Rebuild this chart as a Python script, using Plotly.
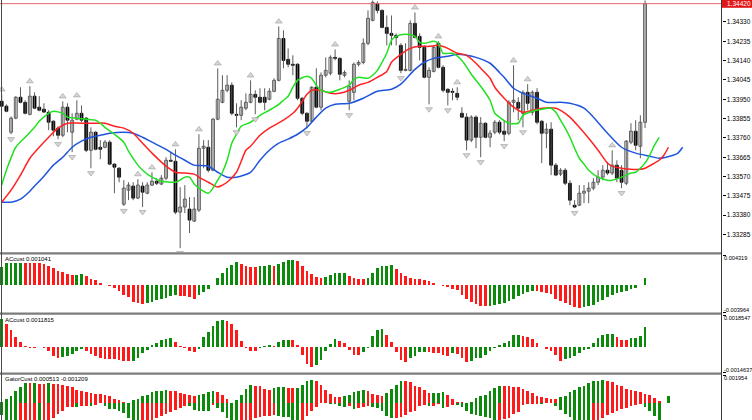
import plotly.graph_objects as go

W, H = 752, 420
PLOT_R = 721.5          # px: right edge of the plotting area (price-scale line)

# ---------------- candles (bar index 0..137) ----------------
opens = [1.33940, 1.33916, 1.33788, 1.33857, 1.33960, 1.33935, 1.33876, 1.33965, 1.33911, 1.33901,
         1.33886, 1.33842, 1.33808, 1.33773, 1.33911, 1.33788, 1.33852, 1.33881, 1.33857, 1.33699,
         1.33788, 1.33714, 1.33714, 1.33739, 1.33631, 1.33611, 1.33434, 1.33503, 1.33523, 1.33464,
         1.33523, 1.33488, 1.33528, 1.33547, 1.33533, 1.33562, 1.33650, 1.33645, 1.33395, 1.33420,
         1.33410, 1.33351, 1.33405, 1.33709, 1.33714, 1.33601, 1.33852, 1.33935, 1.33994, 1.34019,
         1.33876, 1.33871, 1.33906, 1.33935, 1.33974, 1.33960, 1.33960, 1.33950, 1.33989, 1.34043,
         1.34249, 1.34146, 1.34122, 1.34122, 1.33955, 1.33881, 1.33842, 1.34009, 1.33911, 1.34068,
         1.34078, 1.34156, 1.34151, 1.34068, 1.33940, 1.33984, 1.34122, 1.34131, 1.34225, 1.34338,
         1.34421, 1.34387, 1.34303, 1.34274, 1.34264, 1.34215, 1.34092, 1.34092, 1.34323, 1.34259,
         1.34205, 1.34058, 1.34087, 1.34225, 1.34107, 1.33999, 1.33989, 1.33979, 1.33881, 1.33862,
         1.33749, 1.33862, 1.33763, 1.33832, 1.33763, 1.33788, 1.33837, 1.33793, 1.33783, 1.33935,
         1.33935, 1.33881, 1.33984, 1.33886, 1.33984, 1.33842, 1.33783, 1.33803, 1.33626, 1.33582,
         1.33601, 1.33537, 1.33429, 1.33429, 1.33488, 1.33498, 1.33513, 1.33542, 1.33567, 1.33601,
         1.33587, 1.33626, 1.33601, 1.33537, 1.33739, 1.33793, 1.33719, 1.33837]
highs = [1.33974, 1.33925, 1.33866, 1.33965, 1.34009, 1.33945, 1.34014, 1.33984, 1.33965, 1.33930,
         1.33896, 1.33847, 1.33817, 1.33940, 1.33930, 1.33881, 1.33945, 1.33920, 1.33862, 1.33812,
         1.33793, 1.33749, 1.33749, 1.33749, 1.33636, 1.33616, 1.33552, 1.33542, 1.33542, 1.33557,
         1.33542, 1.33542, 1.33591, 1.33562, 1.33577, 1.33665, 1.33690, 1.33704, 1.33518, 1.33528,
         1.33469, 1.33469, 1.33778, 1.33749, 1.33749, 1.33857, 1.34102, 1.34068, 1.34068, 1.34033,
         1.33930, 1.33945, 1.33979, 1.34043, 1.33994, 1.34004, 1.34004, 1.34004, 1.34053, 1.34308,
         1.34289, 1.34200, 1.34166, 1.34127, 1.33960, 1.33886, 1.34014, 1.34102, 1.34082, 1.34156,
         1.34166, 1.34195, 1.34156, 1.34092, 1.34043, 1.34131, 1.34141, 1.34249, 1.34387, 1.34436,
         1.34431, 1.34392, 1.34362, 1.34362, 1.34274, 1.34225, 1.34225, 1.34338, 1.34377, 1.34274,
         1.34215, 1.34107, 1.34215, 1.34235, 1.34117, 1.34004, 1.34004, 1.34009, 1.33911, 1.33881,
         1.33871, 1.33871, 1.33862, 1.33837, 1.33798, 1.33847, 1.33847, 1.33847, 1.33945, 1.34117,
         1.33960, 1.33994, 1.34024, 1.33994, 1.34004, 1.33847, 1.33832, 1.33837, 1.33636, 1.33611,
         1.33611, 1.33552, 1.33454, 1.33528, 1.33528, 1.33542, 1.33562, 1.33601, 1.33626, 1.33641,
         1.33699, 1.33650, 1.33626, 1.33749, 1.33832, 1.33847, 1.33871, 1.34436]
lows = [1.33911, 1.33886, 1.33778, 1.33852, 1.33930, 1.33876, 1.33871, 1.33901, 1.33891, 1.33884,
        1.33798, 1.33768, 1.33754, 1.33763, 1.33788, 1.33690, 1.33847, 1.33837, 1.33690, 1.33611,
        1.33699, 1.33655, 1.33709, 1.33626, 1.33488, 1.33542, 1.33425, 1.33454, 1.33454, 1.33459,
        1.33420, 1.33483, 1.33523, 1.33528, 1.33528, 1.33552, 1.33641, 1.33385, 1.33218, 1.33390,
        1.33292, 1.33346, 1.33395, 1.33611, 1.33591, 1.33596, 1.33847, 1.33930, 1.33984, 1.33871,
        1.33812, 1.33847, 1.33896, 1.33930, 1.33876, 1.33930, 1.33896, 1.33945, 1.33984, 1.34038,
        1.34102, 1.34107, 1.34068, 1.33945, 1.33871, 1.33808, 1.33837, 1.33906, 1.33896, 1.34058,
        1.34068, 1.34141, 1.34043, 1.34058, 1.33896, 1.33945, 1.34112, 1.34122, 1.34215, 1.34333,
        1.34372, 1.34299, 1.34215, 1.34215, 1.34215, 1.34078, 1.34087, 1.34087, 1.34249, 1.34141,
        1.34053, 1.33925, 1.34082, 1.34102, 1.33984, 1.33920, 1.33945, 1.33945, 1.33857, 1.33699,
        1.33739, 1.33709, 1.33665, 1.33758, 1.33714, 1.33778, 1.33778, 1.33744, 1.33773, 1.33886,
        1.33847, 1.33812, 1.33896, 1.33871, 1.33827, 1.33636, 1.33709, 1.33577, 1.33572, 1.33572,
        1.33528, 1.33429, 1.33415, 1.33425, 1.33439, 1.33439, 1.33503, 1.33528, 1.33552, 1.33577,
        1.33577, 1.33542, 1.33513, 1.33528, 1.33729, 1.33699, 1.33660, 1.33808]
closes = [1.33916, 1.33891, 1.33857, 1.33960, 1.33935, 1.33881, 1.33965, 1.33906, 1.33896, 1.33887,
          1.33837, 1.33798, 1.33773, 1.33911, 1.33847, 1.33847, 1.33881, 1.33847, 1.33699, 1.33788,
          1.33704, 1.33704, 1.33739, 1.33631, 1.33616, 1.33567, 1.33513, 1.33528, 1.33464, 1.33528,
          1.33493, 1.33528, 1.33547, 1.33537, 1.33562, 1.33650, 1.33645, 1.33395, 1.33420, 1.33459,
          1.33356, 1.33410, 1.33709, 1.33719, 1.33601, 1.33852, 1.33950, 1.33994, 1.34019, 1.33881,
          1.33871, 1.33911, 1.33935, 1.33974, 1.33960, 1.33935, 1.33935, 1.33989, 1.34043, 1.34249,
          1.34141, 1.34122, 1.34117, 1.33955, 1.33881, 1.33842, 1.34009, 1.33911, 1.34068, 1.34092,
          1.34156, 1.34151, 1.34073, 1.34082, 1.34014, 1.34122, 1.34131, 1.34225, 1.34348, 1.34426,
          1.34387, 1.34303, 1.34274, 1.34264, 1.34254, 1.34092, 1.34097, 1.34323, 1.34254, 1.34205,
          1.34058, 1.34092, 1.34205, 1.34107, 1.33994, 1.33984, 1.33984, 1.33960, 1.33862, 1.33749,
          1.33862, 1.33763, 1.33832, 1.33763, 1.33783, 1.33837, 1.33788, 1.33778, 1.33935, 1.33945,
          1.33906, 1.33984, 1.33930, 1.33984, 1.33837, 1.33783, 1.33803, 1.33626, 1.33577, 1.33601,
          1.33537, 1.33454, 1.33420, 1.33488, 1.33498, 1.33513, 1.33542, 1.33567, 1.33601, 1.33587,
          1.33626, 1.33562, 1.33542, 1.33744, 1.33793, 1.33724, 1.33837, 1.34420]

up_fractals = [0, 6, 13, 16, 29, 32, 37, 42, 46, 53, 59, 71, 88, 93, 97, 109, 112, 130]
down_fractals = [2, 12, 15, 19, 26, 30, 38, 50, 54, 65, 74, 85, 91, 95, 99, 102, 107, 111, 122, 132]

# ---------------- Alligator lines (as read, bar index -> price) ----------------
jaw_x = [0, 2, 4, 6, 7, 9, 11, 13, 15, 17, 19, 21, 23, 26, 28, 30, 32, 35, 37, 39, 41, 44, 46, 48, 50,
         53, 55, 57, 59, 61, 63, 65, 67, 69, 71, 74, 77, 80, 83, 85, 88, 90, 92, 95, 97, 99, 101, 104,
         106, 107, 109, 111, 114, 116, 119, 121, 124, 126, 129, 132, 135, 138, 140, 143, 144, 145]
jaw_y = [1.33444, 1.33444, 1.33459, 1.33498, 1.33523, 1.33572, 1.33626, 1.33665, 1.33714, 1.33744,
         1.33763, 1.33773, 1.33783, 1.33788, 1.33783, 1.33763, 1.33739, 1.33704, 1.33675, 1.33650,
         1.33626, 1.33621, 1.33591, 1.33567, 1.33567, 1.33591, 1.33650, 1.33699, 1.33734, 1.33754,
         1.33778, 1.33812, 1.33862, 1.33906, 1.33925, 1.33930, 1.33955, 1.33989, 1.33999, 1.34024,
         1.34097, 1.34132, 1.34151, 1.34161, 1.34171, 1.34166, 1.34156, 1.34127, 1.34082, 1.34058,
         1.34004, 1.33979, 1.33955, 1.33935, 1.33935, 1.33930, 1.33906, 1.33862, 1.33783, 1.33714,
         1.33685, 1.33670, 1.33660, 1.33675, 1.33685, 1.33714]
teeth_x = [0, 2, 4, 6, 8, 10, 12, 14, 17, 20, 22, 24, 26, 28, 30, 32, 34, 35, 37, 39, 41, 42, 44, 46,
           47, 48, 50, 51, 52, 53, 55, 57, 60, 62, 63, 64, 65, 66, 68, 70, 72, 74, 76, 78, 80, 82, 83,
           85, 87, 89, 91, 93, 95, 97, 99, 101, 102, 104, 105, 107, 109, 111, 113, 115, 118, 120, 121,
           123, 125, 127, 129, 130, 132, 134, 136, 137, 139, 140, 141, 142]
teeth_y = [1.33444, 1.33503, 1.33577, 1.33660, 1.33714, 1.33763, 1.33808, 1.33832, 1.33832, 1.33832,
           1.33832, 1.33817, 1.33808, 1.33783, 1.33734, 1.33685, 1.33641, 1.33621, 1.33591, 1.33587,
           1.33582, 1.33567, 1.33542, 1.33518, 1.33528, 1.33542, 1.33591, 1.33645, 1.33699, 1.33719,
           1.33773, 1.33808, 1.33847, 1.33881, 1.33906, 1.33940, 1.33974, 1.33994, 1.33994, 1.33979,
           1.33979, 1.33994, 1.34019, 1.34033, 1.34058, 1.34087, 1.34132, 1.34171, 1.34200, 1.34210,
           1.34210, 1.34215, 1.34200, 1.34176, 1.34166, 1.34127, 1.34102, 1.34053, 1.34009, 1.33955,
           1.33911, 1.33886, 1.33896, 1.33906, 1.33906, 1.33881, 1.33862, 1.33812, 1.33758, 1.33699,
           1.33636, 1.33621, 1.33611, 1.33606, 1.33606, 1.33611, 1.33636, 1.33650, 1.33675, 1.33714]
lips_x = [0, 1, 3, 5, 7, 8, 10, 11, 13, 14, 16, 18, 20, 21, 22, 24, 26, 27, 29, 30, 32, 34, 36, 37, 38,
          39, 40, 41, 42, 44, 45, 46, 47, 48, 49, 50, 51, 53, 55, 57, 59, 60, 61, 62, 63, 65, 66, 67,
          68, 70, 72, 74, 75, 76, 78, 79, 80, 81, 82, 83, 84, 86, 88, 89, 90, 92, 93, 94, 96, 98, 100,
          102, 104, 105, 106, 108, 110, 111, 113, 115, 117, 118, 119, 120, 121, 122, 123, 124, 125,
          127, 129, 130, 132, 134, 135, 136, 137, 138, 139, 140]
lips_y = [1.33528, 1.33601, 1.33714, 1.33763, 1.33812, 1.33842, 1.33881, 1.33891, 1.33881, 1.33862,
          1.33857, 1.33852, 1.33847, 1.33832, 1.33812, 1.33778, 1.33739, 1.33695, 1.33626, 1.33601,
          1.33567, 1.33547, 1.33542, 1.33542, 1.33552, 1.33567, 1.33567, 1.33533, 1.33513, 1.33488,
          1.33513, 1.33552, 1.33591, 1.33650, 1.33734, 1.33778, 1.33817, 1.33837, 1.33871, 1.33896,
          1.33925, 1.33945, 1.33965, 1.34009, 1.34043, 1.34063, 1.34053, 1.34019, 1.33994, 1.33984,
          1.33999, 1.34019, 1.34048, 1.34058, 1.34053, 1.34068, 1.34092, 1.34132, 1.34176, 1.34240,
          1.34259, 1.34269, 1.34259, 1.34230, 1.34225, 1.34235, 1.34225, 1.34176, 1.34176, 1.34141,
          1.34073, 1.34014, 1.33945, 1.33881, 1.33862, 1.33832, 1.33832, 1.33871, 1.33891, 1.33901,
          1.33906, 1.33886, 1.33847, 1.33808, 1.33763, 1.33709, 1.33660, 1.33631, 1.33601, 1.33567,
          1.33552, 1.33552, 1.33567, 1.33587, 1.33591, 1.33611, 1.33636, 1.33675, 1.33724, 1.33763]

# ---------------- oscillator panels ----------------
ac1 = [0.00254, 0.00312, 0.00314, 0.00316, 0.00318, 0.00316, 0.00314, 0.00312, 0.00310, 0.00308,
       0.00278, 0.00245, 0.00206, 0.00182, 0.00158, 0.00144, 0.00146, 0.00149, 0.00120, 0.00077,
       0.00062, 0.00029, 0.00003, -0.00019, -0.00048, -0.00096, -0.00144, -0.00178, -0.00250, -0.00259,
       -0.00283, -0.00259, -0.00250, -0.00226, -0.00211, -0.00187, -0.00163, -0.00154, -0.00163, -0.00165,
       -0.00178, -0.00202, -0.00144, -0.00106, -0.00067, -0.00004, 0.00096, 0.00173, 0.00240, 0.00288,
       0.00326, 0.00302, 0.00278, 0.00264, 0.00254, 0.00269, 0.00278, 0.00280, 0.00269, 0.00302,
       0.00326, 0.00360, 0.00365, 0.00341, 0.00278, 0.00206, 0.00149, 0.00110, 0.00096, 0.00110,
       0.00144, 0.00168, 0.00170, 0.00172, 0.00134, 0.00101, 0.00086, 0.00077, 0.00101, 0.00168,
       0.00240, 0.00269, 0.00278, 0.00280, 0.00230, 0.00168, 0.00125, 0.00096, 0.00086, 0.00077,
       0.00062, 0.00048, 0.00029, 0.00002, -0.00019, -0.00034, -0.00062, -0.00082, -0.00154, -0.00211,
       -0.00250, -0.00274, -0.00307, -0.00312, -0.00307, -0.00298, -0.00283, -0.00259, -0.00240, -0.00202,
       -0.00168, -0.00139, -0.00106, -0.00091, -0.00096, -0.00106, -0.00120, -0.00139, -0.00202, -0.00240,
       -0.00264, -0.00298, -0.00322, -0.00331, -0.00322, -0.00312, -0.00288, -0.00250, -0.00216, -0.00178,
       -0.00144, -0.00115, -0.00106, -0.00096, -0.00067, -0.00048, -0.00003, 0.001041]
ac2 = [0.00162, 0.00134, 0.00096, 0.00057, 0.00029, 0.00004, -0.00004, -0.00006, -0.00002, -0.00006,
       -0.00023, -0.00052, -0.00067, -0.00061, -0.00053, -0.00042, -0.00023, -0.00010, -0.00023, -0.00042,
       -0.00052, -0.00067, -0.00071, -0.00072, -0.00073, -0.00076, -0.00082, -0.00083, -0.00080, -0.00067,
       -0.00038, -0.00019, 0.00010, 0.00025, 0.00038, 0.00048, 0.00053, 0.00029, 0.00006, -0.00006,
       -0.00023, -0.00029, -0.00010, 0.00057, 0.00086, 0.00120, 0.00153, 0.00157, 0.00153, 0.00134,
       0.00096, 0.00032, -0.00006, -0.00023, -0.00024, -0.00006, 0.00006, 0.00010, 0.00004, 0.00029,
       0.00038, 0.00042, 0.00038, 0.00010, -0.00048, -0.00101, -0.00115, -0.00105, -0.00076, -0.00023,
       0.00019, 0.00044, 0.00032, 0.00025, -0.00019, -0.00048, -0.00049, -0.00032, -0.00004, 0.00063,
       0.00101, 0.00103, 0.00071, 0.00029, -0.00029, -0.00076, -0.00090, -0.00067, -0.00053, -0.00032,
       -0.00029, -0.00032, -0.00034, -0.00038, -0.00048, -0.00052, -0.00038, -0.00039, -0.00063, -0.00086,
       -0.00082, -0.00067, -0.00066, -0.00048, -0.00025, -0.00004, 0.00013, 0.00025, 0.00032, 0.00067,
       0.00069, 0.00061, 0.00055, 0.00044, 0.00025, 0.00002, -0.00010, -0.00025, -0.00048, -0.00080,
       -0.00071, -0.00063, -0.00052, -0.00038, -0.00019, -0.00010, 0.00025, 0.00052, 0.00071, 0.00073,
       0.00075, 0.00057, 0.00042, 0.00038, 0.00052, 0.00053, 0.00063, 0.0011815]
gator_up = [0.00007, 0.00030, 0.00048, 0.00081, 0.00115, 0.00138, 0.00137, 0.00139, 0.00136, 0.00135,
            0.00137, 0.00136, 0.00133, 0.00127, 0.00122, 0.00110, 0.00094, 0.00081, 0.00076, 0.00071,
            0.00064, 0.00062, 0.00053, 0.00046, 0.00030, 0.00018, 0.00007, 0.00002, 0.00018, 0.00030,
            0.00048, 0.00058, 0.00076, 0.00083, 0.00087, 0.00090, 0.00083, 0.00081, 0.00071, 0.00064,
            0.00053, 0.00048, 0.00053, 0.00064, 0.00076, 0.00087, 0.00076, 0.00058, 0.00030, 0.00003,
            0.00018, 0.00058, 0.00099, 0.00127, 0.00122, 0.00117, 0.00099, 0.00094, 0.00104, 0.00110,
            0.00113, 0.00108, 0.00106, 0.00108, 0.00129, 0.00152, 0.00161, 0.00156, 0.00127, 0.00092,
            0.00060, 0.00041, 0.00039, 0.00048, 0.00058, 0.00076, 0.00087, 0.00090, 0.00081, 0.00060,
            0.00053, 0.00048, 0.00069, 0.00099, 0.00127, 0.00156, 0.00154, 0.00145, 0.00122, 0.00110,
            0.00092, 0.00067, 0.00069, 0.00071, 0.00074, 0.00053, 0.00028, 0.00007, 0.00005, 0.00002,
            0.00010, 0.00037, 0.00048, 0.00053, 0.00087, 0.00104, 0.00122, 0.00120, 0.00118, 0.00115,
            0.00110, 0.00099, 0.00081, 0.00071, 0.00048, 0.00041, 0.00036, 0.00031, 0.00029, 0.00039,
            0.00048, 0.00076, 0.00094, 0.00110, 0.00122, 0.00140, 0.00156, 0.00157, 0.00161, 0.00156,
            0.00145, 0.00127, 0.00117, 0.00099, 0.00092, 0.00087, 0.00076, 0.00064, 0.00053, 0.00037,
            0.00012, 0.00002, 0.000513]
gator_dn = [-0.00083, -0.00128, -0.00157, -0.00172, -0.00162, -0.00142, -0.00128, -0.00123, -0.00128, -0.00127,
            -0.00118, -0.00103, -0.00079, -0.00059, -0.00029, -0.00025, -0.00026, -0.00024, -0.00020, -0.00021,
            -0.00015, -0.00002, -0.00020, -0.00039, -0.00040, -0.00054, -0.00069, -0.00103, -0.00123, -0.00133,
            -0.00132, -0.00128, -0.00118, -0.00108, -0.00093, -0.00079, -0.00064, -0.00049, -0.00034, -0.00020,
            -0.00021, -0.00049, -0.00054, -0.00055, -0.00056, -0.00015, -0.00034, -0.00064, -0.00108, -0.00167,
            -0.00187, -0.00172, -0.00128, -0.00118, -0.00108, -0.00098, -0.00093, -0.00088, -0.00087, -0.00089,
            -0.00098, -0.00099, -0.00128, -0.00137, -0.00118, -0.00088, -0.00059, -0.00025, -0.00001, -0.00002,
            -0.00005, -0.00010, -0.00020, -0.00025, -0.00024, -0.00039, -0.00038, -0.00029, -0.00020, -0.00025,
            -0.00034, -0.00059, -0.00088, -0.00108, -0.00107, -0.00098, -0.00083, -0.00064, -0.00054, -0.00020,
            -0.00015, -0.00020, -0.00019, -0.00010, -0.00034, -0.00025, -0.00015, -0.00016, -0.00029, -0.00059,
            -0.00074, -0.00083, -0.00088, -0.00098, -0.00108, -0.00128, -0.00123, -0.00113, -0.00103, -0.00079,
            -0.00064, -0.00015, -0.00010, -0.00005, -0.00004, -0.00005, -0.00003, -0.00001, -0.00020, -0.00049,
            -0.00074, -0.00098, -0.00128, -0.00152, -0.00153, -0.00157, -0.00142, -0.00133, -0.00108, -0.00083,
            -0.00069, -0.00059, -0.00044, -0.00032, -0.00020, -0.00015, -0.00005, -0.00025, -0.00054, -0.00088,
            -0.001209]

price_ticks = [1.33285, 1.33380, 1.33475, 1.33570, 1.33665, 1.33760, 1.33855, 1.33950,
               1.34045, 1.34140, 1.34235, 1.34330]
bid_price = 1.34420
price_range = [1.33199, 1.34438]
ac1_range = [-0.003964, 0.004319]
ac2_range = [-0.0014637, 0.0018547]
gator_range = [-0.001187, 0.001954]
ac1_label = "ACcust 0.001041"
ac2_label = "ACcust 0.0011815"
gator_label = "GatorCust 0.000513 -0.001209"

# ---------------- styling ----------------
GREEN = "#0b8a0b"
RED = "#ff1a1a"
FONT = "Liberation Sans"
X_RANGE = [-0.362, 153.28]
FRACTAL_OFFSET = 0.00024


def ydom(top_px, bottom_px):
    return [1 - bottom_px / H, 1 - top_px / H]


def py(px):
    return 1 - px / H


def rising_colors(vals, use_abs=False):
    out = []
    for i, v in enumerate(vals):
        if i == 0:
            out.append(GREEN)
            continue
        a, b = (abs(v), abs(vals[i - 1])) if use_abs else (v, vals[i - 1])
        out.append(GREEN if a > b else RED)
    return out


idx = list(range(len(opens)))
fig = go.Figure()

# wicks
wx, wy = [], []
for i in idx:
    wx += [i, i, None]
    wy += [lows[i], highs[i], None]
fig.add_trace(go.Scatter(x=wx, y=wy, mode="lines", line=dict(color="#5c5c5c", width=1),
                         hoverinfo="skip", showlegend=False, xaxis="x", yaxis="y"))

# bodies
bases = [min(o, c) for o, c in zip(opens, closes)]
heights = [abs(c - o) for o, c in zip(opens, closes)]
fills = ["#ffffff" if c >= o else "#000000" for o, c in zip(opens, closes)]
edges = ["#3a3a3a" if c >= o else "#000000" for o, c in zip(opens, closes)]
fig.add_trace(go.Bar(x=idx, y=heights, base=bases, width=0.62,
                     marker=dict(color=fills, line=dict(color=edges, width=0.8)),
                     hoverinfo="skip", showlegend=False, xaxis="x", yaxis="y"))

# alligator
for xs, ys, col in ((jaw_x, jaw_y, "#1f55dd"), (teeth_x, teeth_y, "#ff2222"), (lips_x, lips_y, "#22e022")):
    fig.add_trace(go.Scatter(x=xs, y=ys, mode="lines",
                             line=dict(color=col, width=1.5, shape="spline", smoothing=0.7),
                             hoverinfo="skip", showlegend=False, xaxis="x", yaxis="y"))

# fractals
fig.add_trace(go.Scatter(x=up_fractals, y=[highs[i] + FRACTAL_OFFSET for i in up_fractals],
                         mode="markers",
                         marker=dict(symbol="triangle-up", size=6, color="#d6d6d6",
                                     line=dict(color="#9c9c9c", width=0.6)),
                         hoverinfo="skip", showlegend=False, xaxis="x", yaxis="y"))
fig.add_trace(go.Scatter(x=down_fractals, y=[lows[i] - FRACTAL_OFFSET for i in down_fractals],
                         mode="markers",
                         marker=dict(symbol="triangle-down", size=6, color="#d6d6d6",
                                     line=dict(color="#9c9c9c", width=0.6)),
                         hoverinfo="skip", showlegend=False, xaxis="x", yaxis="y"))

# oscillators
fig.add_trace(go.Bar(x=list(range(len(ac1))), y=ac1, width=0.58,
                     marker=dict(color=rising_colors(ac1), line=dict(width=0)),
                     hoverinfo="skip", showlegend=False, xaxis="x", yaxis="y2"))
fig.add_trace(go.Bar(x=list(range(len(ac2))), y=ac2, width=0.58,
                     marker=dict(color=rising_colors(ac2), line=dict(width=0)),
                     hoverinfo="skip", showlegend=False, xaxis="x", yaxis="y3"))
fig.add_trace(go.Bar(x=list(range(len(gator_up))), y=gator_up, width=0.58,
                     marker=dict(color=rising_colors(gator_up, True), line=dict(width=0)),
                     hoverinfo="skip", showlegend=False, xaxis="x", yaxis="y4"))
fig.add_trace(go.Bar(x=list(range(len(gator_dn))), y=gator_dn, width=0.58,
                     marker=dict(color=rising_colors(gator_dn, True), line=dict(width=0)),
                     hoverinfo="skip", showlegend=False, xaxis="x", yaxis="y4"))

common_y = dict(side="right", anchor="x", showgrid=False, zeroline=False, showline=False,
                ticks="outside", ticklen=3, tickwidth=1, tickcolor="#000000", fixedrange=True)

fig.update_layout(
    width=W, height=H, autosize=False,
    margin=dict(l=0, r=0, t=0, b=0, pad=0),
    paper_bgcolor="#ffffff", plot_bgcolor="#ffffff",
    barmode="overlay", bargap=0, showlegend=False,
    font=dict(family=FONT, size=7, color="#000000"),
    xaxis=dict(domain=[0, PLOT_R / W], range=X_RANGE, visible=False, fixedrange=True),
    yaxis=dict(domain=ydom(0, 252), range=price_range, tickvals=price_ticks,
               ticktext=[f"{v:.5f}" for v in price_ticks],
               tickfont=dict(family=FONT, size=6.5, color="#000000"), **common_y),
    yaxis2=dict(domain=ydom(255, 312), range=ac1_range, tickvals=ac1_range,
                showticklabels=False, **common_y),
    yaxis3=dict(domain=ydom(315, 372), range=ac2_range, tickvals=ac2_range,
                showticklabels=False, **common_y),
    yaxis4=dict(domain=ydom(375, 420), range=gator_range, tickvals=[gator_range[1]],
                showticklabels=False, **common_y),
)

shapes = []
# bid line
shapes.append(dict(type="line", xref="paper", yref="y", x0=0, x1=PLOT_R / W,
                   y0=bid_price, y1=bid_price, line=dict(color="#e36a6a", width=1)))
# panel separators
for ysep in (253.3, 313.6, 373.6):
    shapes.append(dict(type="rect", xref="paper", yref="paper", x0=0, x1=PLOT_R / W,
                       y0=py(ysep + 1.1), y1=py(ysep - 1.1),
                       fillcolor="#7c7c7c", line=dict(width=0)))
# left frame and price-scale line
shapes.append(dict(type="line", xref="paper", yref="paper", x0=1.5 / W, x1=1.5 / W, y0=0, y1=1,
                   line=dict(color="#4a4a4a", width=1)))
shapes.append(dict(type="line", xref="paper", yref="paper", x0=PLOT_R / W, x1=PLOT_R / W, y0=0, y1=1,
                   line=dict(color="#3a3a3a", width=1)))
# bid box
shapes.append(dict(type="rect", xref="paper", yref="paper", x0=(PLOT_R + 0.5) / W, x1=1,
                   y0=py(7.8), y1=1.0, fillcolor="#e01818", line=dict(width=0)))
fig.update_layout(shapes=shapes)

ann = []
ann.append(dict(x=(PLOT_R + 3) / W, y=py(3.6), xref="paper", yref="paper", text=f"{bid_price:.5f}",
                showarrow=False, xanchor="left", yanchor="middle",
                font=dict(family=FONT, size=6.5, color="#ffffff")))
for txt, ypx in ((ac1_label, 259), (ac2_label, 319.5), (gator_label, 379.3)):
    ann.append(dict(x=3 / W, y=py(ypx), xref="paper", yref="paper", text=txt, showarrow=False,
                    xanchor="left", yanchor="middle", font=dict(family=FONT, size=6, color="#000000")))
for val, ypx in ((ac1_range[1], 257.5), (ac1_range[0], 309.8), (ac2_range[1], 317.6),
                 (ac2_range[0], 370.0), (gator_range[1], 377.6)):
    txt = f"{val:.6f}" if abs(val) >= 0.002 or val == gator_range[1] else f"{val:.7f}"
    ann.append(dict(x=(PLOT_R + 0.8) / W, y=py(ypx), xref="paper", yref="paper", text=txt,
                    showarrow=False, xanchor="left", yanchor="middle",
                    font=dict(family=FONT, size=5.6, color="#000000")))
fig.update_layout(annotations=ann)

fig.write_html("out.html", config={"displayModeBar": False, "staticPlot": True},
               post_script="document.body.style.margin='0px';document.body.style.overflow='hidden';")
